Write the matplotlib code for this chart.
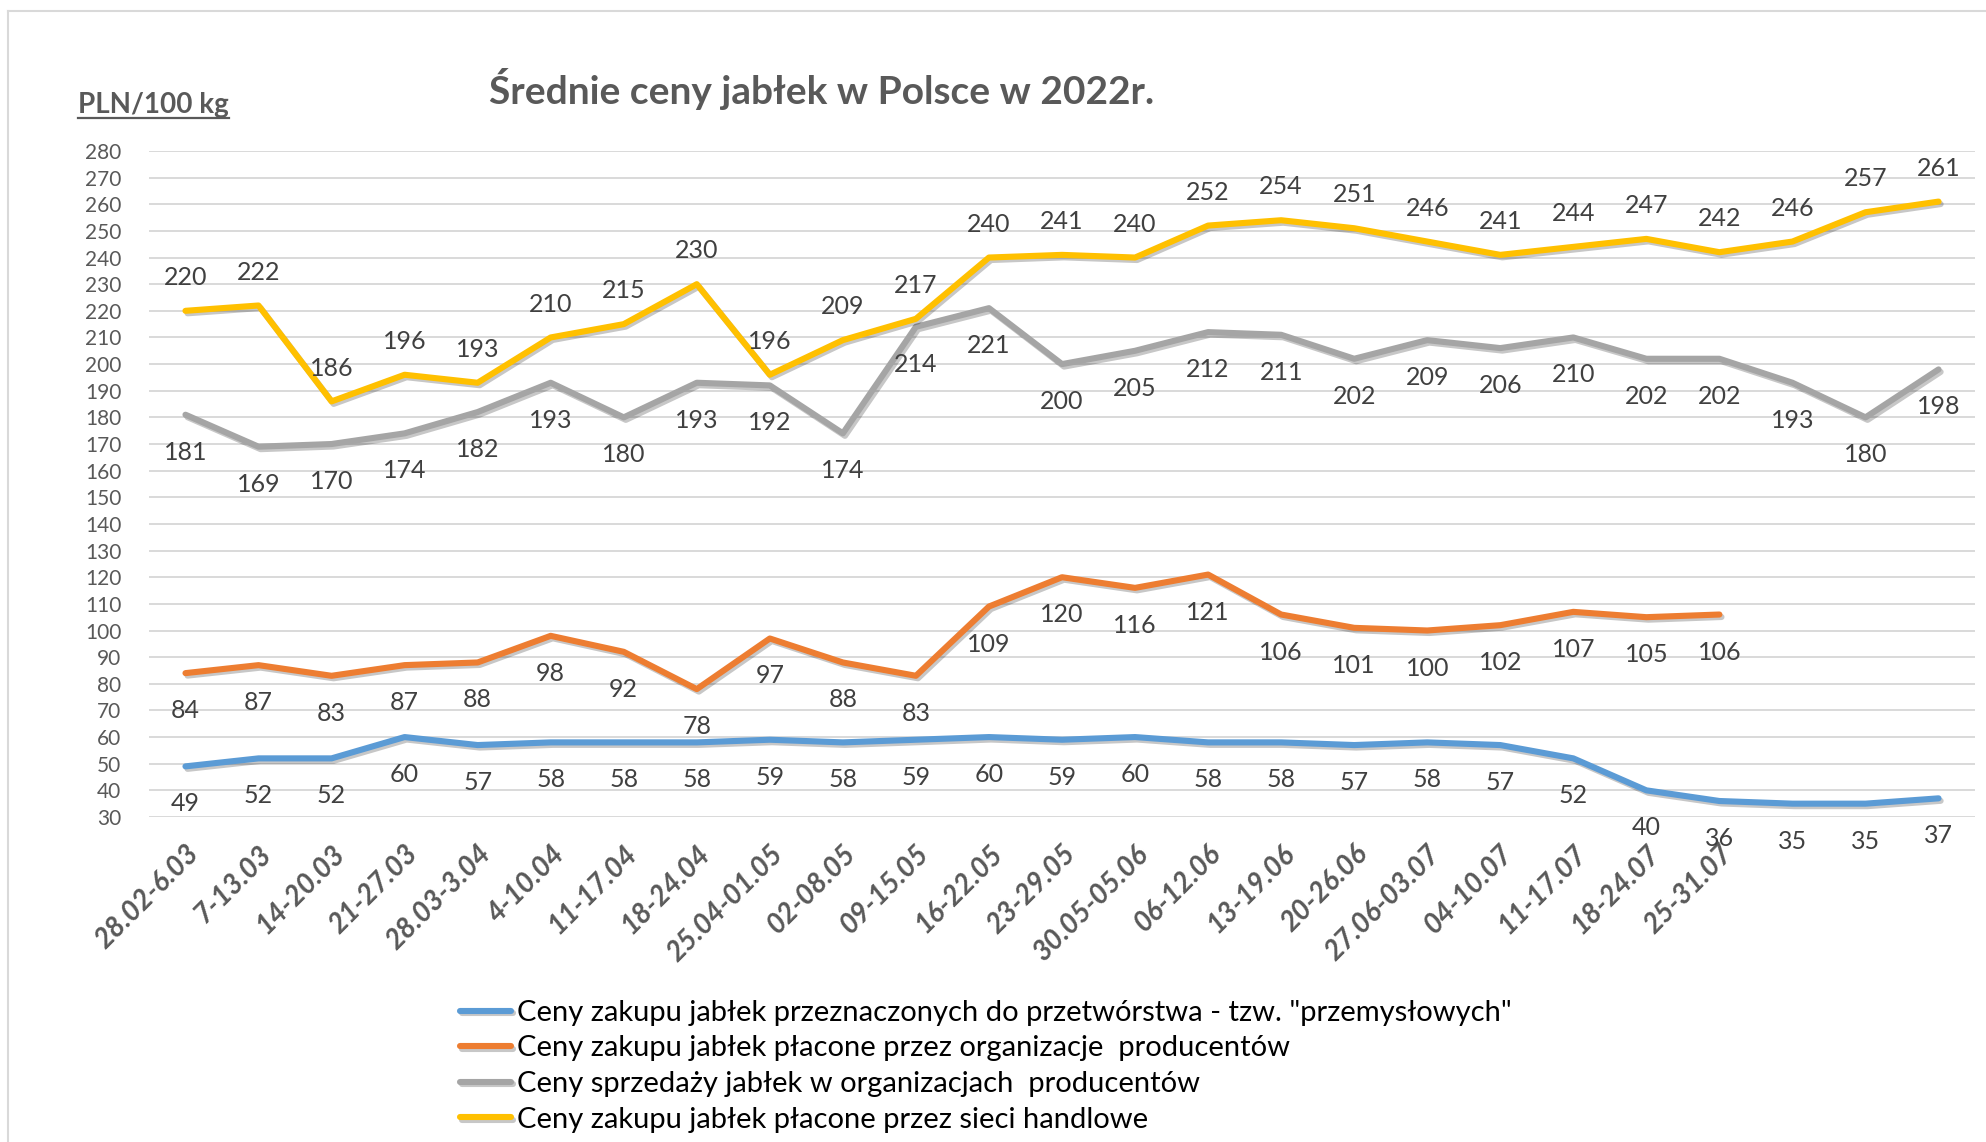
import matplotlib.pyplot as plt
import matplotlib.patheffects as pe
from matplotlib.lines import Line2D
import numpy as np

plt.rcParams['font.family'] = ['Lato', 'DejaVu Sans']

# -----------------------data-----------------------
weeks = ['28.02-6.03', '7-13.03', '14-20.03', '21-27.03', '28.03-3.04', '4-10.04',
         '11-17.04', '18-24.04', '25.04-01.05', '02-08.05', '09-15.05', '16-22.05',
         '23-29.05', '30.05-05.06', '06-12.06', '13-19.06', '20-26.06', '27.06-03.07',
         '04-10.07', '11-17.07', '18-24.07', '25-31.07']

przemyslowe = [49, 52, 52, 60, 57, 58, 58, 58, 59, 58, 59, 60, 59, 60, 58, 58, 57, 58,
               57, 52, 40, 36, 35, 35, 37]
org_zakup = [84, 87, 83, 87, 88, 98, 92, 78, 97, 88, 83, 109, 120, 116, 121, 106, 101,
             100, 102, 107, 105, 106]
org_sprzedaz = [181, 169, 170, 174, 182, 193, 180, 193, 192, 174, 214, 221, 200, 205,
                212, 211, 202, 209, 206, 210, 202, 202, 193, 180, 198]
sieci = [220, 222, 186, 196, 193, 210, 215, 230, 196, 209, 217, 240, 241, 240, 252, 254,
         251, 246, 241, 244, 247, 242, 246, 257, 261]

names = ['Ceny zakupu jabłek przeznaczonych do przetwórstwa - tzw. "przemysłowych"',
         'Ceny zakupu jabłek płacone przez organizacje  producentów',
         'Ceny sprzedaży jabłek w organizacjach  producentów',
         'Ceny zakupu jabłek płacone przez sieci handlowe']

y_ticks = list(range(30, 281, 10))

# -----------------------style-----------------------
blue = '#5B9BD5'
orange = '#ED7D31'
gray = '#A5A5A5'
yellow = '#FFC000'
text_gray = '#595959'
label_gray = '#404040'
grid_gray = '#D9D9D9'

series = [(przemyslowe, blue, 'below'),
          (org_zakup, orange, 'below'),
          (org_sprzedaz, gray, 'below'),
          (sieci, yellow, 'above')]

fig = plt.figure(figsize=(19.86, 11.42), dpi=100)
ax = fig.add_axes([0.0750, 0.2846, 0.9195, 0.5832])

shadow = [pe.SimpleLineShadow(offset=(1.5, -1.8), shadow_color='black', alpha=0.22),
          pe.Normal()]

n_points = len(sieci)
handles = []
for (values, color, pos), name in zip(series, names):
    x = np.arange(len(values))
    line, = ax.plot(x, values, color=color, linewidth=4.4, solid_capstyle='round',
                    solid_joinstyle='round', path_effects=shadow, zorder=3, label=name)
    handles.append(line)
    dy = 24 if pos == 'above' else -27
    for xi, v in zip(x, values):
        ax.annotate(str(v), (xi, v), xytext=(0, dy), textcoords='offset points',
                    ha='center', va='center', fontsize=18, color=label_gray,
                    zorder=4, annotation_clip=False)

ax.set_xlim(-0.5, n_points - 0.5)
ax.set_ylim(30, 280)
ax.set_yticks(y_ticks)
ax.set_yticklabels([str(t) for t in y_ticks], fontsize=15, color=text_gray)
ax.set_xticks(range(len(weeks)))
ax.set_xticklabels(weeks, rotation=45, ha='right', va='top', rotation_mode='anchor',
                   fontsize=20, fontweight='bold', fontstyle='italic', color=text_gray)
ax.tick_params(axis='both', length=0)
ax.tick_params(axis='x', pad=17)
ax.tick_params(axis='y', pad=20)
ax.yaxis.grid(True, color=grid_gray, linewidth=1.4)
ax.set_axisbelow(True)
for s in ax.spines.values():
    s.set_visible(False)

# title and unit
fig.text(0.4135, 0.922, 'Średnie ceny jabłek w Polsce w 2022r.', ha='center', va='center',
         fontsize=28, fontweight='bold', color=text_gray)
unit = fig.text(78 / 1986, 1 - 105 / 1142, 'PLN/100 kg', ha='left', va='center',
                fontsize=20, fontweight='bold', color=text_gray)

# legend
fig.legend(handles=handles, loc='upper left', bbox_to_anchor=(0.2316, 0.1245),
           frameon=False, fontsize=21, handlelength=1.75, handletextpad=0.2,
           labelspacing=0.33, borderpad=0, borderaxespad=0, labelcolor='black')

# chart border (top and left edge visible)
fig.add_artist(Line2D([8 / 1986, 1], [1 - 11 / 1142, 1 - 11 / 1142],
                      transform=fig.transFigure, color=grid_gray, linewidth=1.5))
fig.add_artist(Line2D([8 / 1986, 8 / 1986], [0, 1 - 11 / 1142],
                      transform=fig.transFigure, color=grid_gray, linewidth=1.5))

# underline the unit label
fig.canvas.draw()
bb = unit.get_window_extent().transformed(fig.transFigure.inverted())
fig.add_artist(Line2D([bb.x0, bb.x1], [1 - 118 / 1142, 1 - 118 / 1142],
                      transform=fig.transFigure, color=text_gray, linewidth=1.6))

fig.savefig('out.png', dpi=100)
